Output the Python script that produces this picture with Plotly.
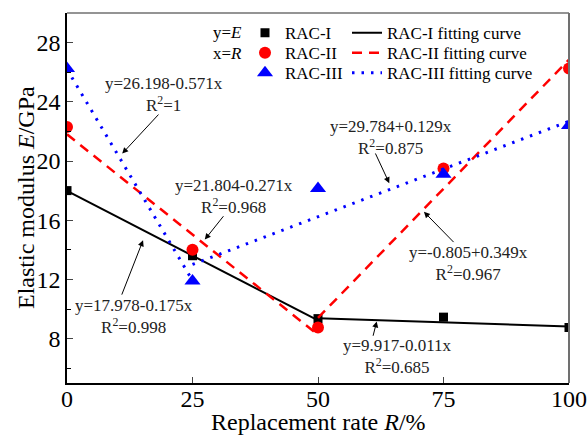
import plotly.graph_objects as go

# ---- data ----
R = [0, 25, 50, 75, 100]
E_I = [18.0, 13.6, 9.35, 9.45, 8.75]
E_II = [22.3, 14.0, 8.75, 19.5, 26.25]
E_III = [26.25, 11.9, 18.15, 19.1, 22.4]

FIT_I_X = [0, 50, None, 50, 100]
FIT_I_Y = [17.978, 9.228, None, 9.367, 8.817]
FIT_II_X = [0, 50, None, 50, 100]
FIT_II_Y = [21.804, 8.254, None, 9.40, 26.85]
FIT_III_X = [0, 25, None, 25, 100]
FIT_III_Y = [26.198, 11.923, None, 13.009, 22.684]

Y_TICKS = [8, 12, 16, 20, 24, 28]
X_TICKS = [0, 25, 50, 75, 100]

# equation labels: (x, y, text)
EQ_TEXT = [
    (19.3, 24.52, "y=26.198-0.571x<br>R<sup>2</sup>=1"),
    (33.2, 17.62, "y=21.804-0.271x<br>R<sup>2</sup>=0.968"),
    (64.5, 21.56, "y=29.784+0.129x<br>R<sup>2</sup>=0.875"),
    (13.3, 9.48, "y=17.978-0.175x<br>R<sup>2</sup>=0.998"),
    (79.9, 13.07, "y=-0.805+0.349x<br>R<sup>2</sup>=0.967"),
    (65.9, 6.79, "y=9.917-0.011x<br>R<sup>2</sup>=0.685"),
]
# arrows: (tail x, tail y, head x, head y)
ARROWS = [
    (18.5, 23.24, 11.0, 20.5),
    (31.4, 16.37, 27.45, 14.69),
    (61.3, 20.61, 64.2, 18.5),
    (10.8, 10.87, 15.15, 14.64),
    (77.3, 14.42, 71.1, 16.57),
    (60.9, 8.09, 61.7, 9.16),
]

FONT = "Liberation Serif, Times New Roman, serif"

fig = go.Figure()

def add_pair(name, xs, ys, symbol, size, color, fx, fy, dash, width, lg_m, lg_l):
    fig.add_trace(go.Scatter(x=xs, y=ys, mode="markers", name=name,
                             marker=dict(symbol=symbol, size=size, color=color),
                             legend=lg_m, cliponaxis=True))
    fig.add_trace(go.Scatter(x=fx, y=fy, mode="lines", name=name + " fitting curve",
                             line=dict(color=color, width=width, dash=dash),
                             connectgaps=False, legend=lg_l))

add_pair("RAC-I", R, E_I, "square", 9, "black", FIT_I_X, FIT_I_Y, "solid", 2,
         "legend", "legend4")
add_pair("RAC-II", R, E_II, "circle", 12, "red", FIT_II_X, FIT_II_Y, "10px,7px", 2.5,
         "legend2", "legend5")
add_pair("RAC-III", R, E_III, "triangle-up", 14, "blue", FIT_III_X, FIT_III_Y, "2.5px,7px", 3,
         "legend3", "legend6")

annots = []
for x, y, t in EQ_TEXT:
    annots.append(dict(x=x, y=y, xref="x", yref="y", text=t, showarrow=False,
                       font=dict(family=FONT, size=17, color="#222")))
for tx, ty, hx, hy in ARROWS:
    annots.append(dict(x=hx, y=hy, ax=tx, ay=ty, xref="x", yref="y", axref="x", ayref="y",
                       text="", showarrow=True, arrowhead=2, arrowsize=1.2, arrowwidth=1,
                       arrowcolor="black", standoff=0))
annots.append(dict(x=35.2, y=28.67, xref="x", yref="y", xanchor="right", showarrow=False,
                   text="y=<i>E</i>", font=dict(family=FONT, size=17, color="black")))
annots.append(dict(x=35.2, y=27.28, xref="x", yref="y", xanchor="right", showarrow=False,
                   text="x=<i>R</i>", font=dict(family=FONT, size=17, color="black")))

H_PLOT = 370.0
W_PLOT = 502.0

# axis titles as paper-anchored texts
annots.append(dict(x=0.5, y=(382.7 - 422) / H_PLOT, xref="paper", yref="paper",
                   xanchor="center", yanchor="middle", showarrow=False,
                   text="Replacement rate <i>R</i>/%",
                   font=dict(family=FONT, size=24, color="black")))
annots.append(dict(x=(26 - 67) / W_PLOT, y=0.5, xref="paper", yref="paper",
                   xanchor="center", yanchor="middle", showarrow=False, textangle=-90,
                   text="Elastic modulus <i>E</i>/GPa",
                   font=dict(family=FONT, size=24, color="black")))

def leg(xpx, ypx):
    return dict(orientation="v", x=(xpx - 67) / W_PLOT, xanchor="left",
                y=(382.7 - ypx) / H_PLOT, yanchor="middle",
                font=dict(family=FONT, size=17, color="black"),
                bgcolor="rgba(0,0,0,0)", itemclick=False, tracegroupgap=0)

fig.update_layout(
    width=587, height=436,
    margin=dict(l=67, r=18, t=13, b=53),
    paper_bgcolor="white", plot_bgcolor="white",
    font=dict(family=FONT, color="black"),
    showlegend=True,
    legend=leg(245, 33), legend2=leg(245, 53), legend3=leg(245, 73),
    legend4=leg(347, 33), legend5=leg(347, 53), legend6=leg(347, 73),
    annotations=annots,
    xaxis=dict(range=[0, 100], tickvals=X_TICKS, ticks="inside", ticklen=6, tickwidth=1.2,
               showline=True, linecolor="black", linewidth=1.5, showgrid=False, zeroline=False,
               automargin=False, ticklabelstandoff=-7,
               tickfont=dict(family=FONT, size=24, color="black")),
    yaxis=dict(range=[5, 30], tickvals=Y_TICKS, ticks="inside", ticklen=6, tickwidth=1.2,
               showline=True, linecolor="black", linewidth=1.5, showgrid=False, zeroline=False,
               automargin=False,
               minor=dict(tickvals=[6, 10, 14, 18, 22, 26], ticks="inside", ticklen=4,
                          tickcolor="black", tickwidth=1),
               tickfont=dict(family=FONT, size=24, color="black")),
    shapes=[
        dict(type="line", xref="paper", yref="paper", x0=0, x1=1, y0=1, y1=1,
             line=dict(color="#707070", width=1.5)),
        dict(type="line", xref="paper", yref="paper", x0=1, x1=1, y0=0, y1=1,
             line=dict(color="#707070", width=2)),
    ],
)

fig.write_html("out.html")
